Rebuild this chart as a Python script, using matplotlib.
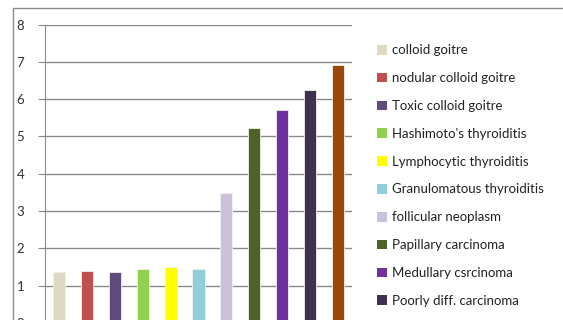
import matplotlib
matplotlib.use('Agg')
import matplotlib.pyplot as plt
from matplotlib.patches import Patch, Rectangle

plt.rcParams['font.family'] = ['Lato', 'DejaVu Sans']

# mean score per lesion type
lesions = ['colloid goitre', 'nodular colloid goitre', 'Toxic colloid goitre',
           "Hashimoto's thyroiditis", 'Lymphocytic thyroiditis',
           'Granulomatous thyroiditis', 'follicular neoplasm',
           'Papillary carcinoma', 'Medullary csrcinoma',
           'Poorly diff. carcinoma', 'Anaplastic carcinoma']
scores = [1.35, 1.38, 1.35, 1.45, 1.50, 1.45, 3.47, 5.24, 5.71, 6.24, 6.92]
colors = ['#DDD9C3', '#C0504D', '#604A7B', '#92D050', '#FFFF00', '#92CDDC',
          '#CCC1DA', '#4F6228', '#7030A0', '#3F3151', '#984807']
yticks = [0, 1, 2, 3, 4, 5, 6, 7, 8]
n_legend = 10  # rows that fit above the bottom edge

W, H = 563, 320
fig = plt.figure(figsize=(W / 100, H / 100), dpi=100)

# chart frame, running off the right and bottom edges
fig.patches.append(Rectangle((13 / W, -0.2), 1.2, 1 - 8 / H + 0.2,
                             transform=fig.transFigure, fill=False,
                             edgecolor='#8c8c8c', lw=1.0))

ax = fig.add_axes([45 / W, 1 - 322.8 / H, 307 / W, 298.1 / H])
x = range(len(scores))
ax.bar(x, scores, width=0.43, color=colors, edgecolor='#f4f0ea', lw=0.6,
       zorder=3)
ax.set_xlim(-0.5, len(scores) - 0.5)
ax.set_ylim(0, 8)
ax.set_yticks(yticks)
ax.set_yticklabels([str(v) for v in yticks], fontsize=9.5, color='#333333')
ax.set_xticks([])
ax.grid(axis='y', color='#8a8a8a', lw=1.0, zorder=0)
for s in ['top', 'right', 'bottom']:
    ax.spines[s].set_visible(False)
ax.spines['left'].set_color('#8a8a8a')
ax.tick_params(axis='y', length=5, color='#8a8a8a', pad=10)

handles = [Patch(facecolor=c, edgecolor='none') for c in colors[:n_legend]]
fig.legend(handles, lesions[:n_legend], loc='upper left',
           bbox_to_anchor=(372 / W, 1 - 39 / H), frameon=False,
           fontsize=9.5, handlelength=0.75, handleheight=0.75,
           handletextpad=0.35, labelspacing=1.2, borderaxespad=0,
           labelcolor='#222222')

fig.savefig('out.png', dpi=100)
